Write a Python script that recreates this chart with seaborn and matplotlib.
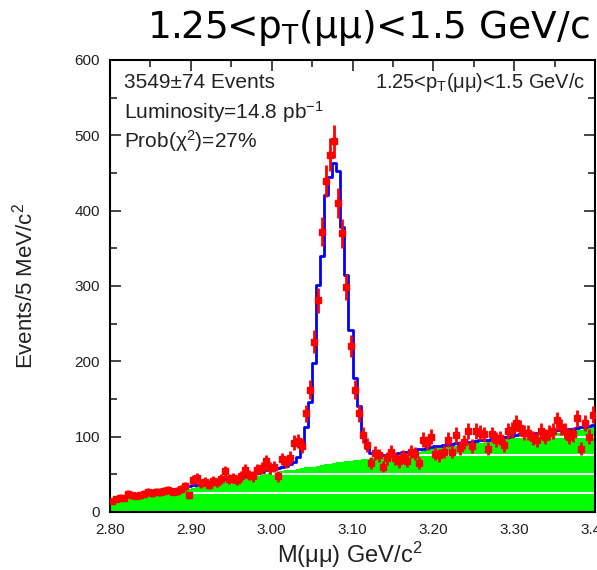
import matplotlib
matplotlib.use("Agg")
import matplotlib.pyplot as plt
from matplotlib.ticker import MultipleLocator
import numpy as np
import pandas as pd
import seaborn as sns

sns.set_style("ticks")
plt.rcParams.update({
    "font.family": ["Liberation Sans", "DejaVu Sans"],
    "mathtext.default": "regular",
})

# 5 MeV bins from 2.80 to 3.40 GeV/c^2
edges = np.linspace(2.80, 3.40, 121)
centers = (edges[:-1] + edges[1:]) / 2

# data counts per bin
counts = np.array([
    14, 17, 19, 18, 24, 22, 21, 22, 24, 27, 25, 27, 26, 28, 29, 27, 28, 30, 34, 22,
    42, 45, 38, 40, 36, 41, 39, 44, 54, 44, 45, 42, 47, 56, 49, 47, 56, 58, 67, 58,
    60, 47, 70, 66, 72, 92, 94, 88, 131, 162, 226, 281, 372, 439, 474, 492, 410, 370, 299, 220,
    162, 131, 102, 89, 65, 78, 75, 60, 71, 80, 71, 67, 74, 68, 80, 77, 65, 96, 91, 100,
    77, 75, 80, 96, 80, 102, 85, 93, 107, 87, 107, 105, 103, 84, 103, 96, 98, 89, 107, 109,
    118, 111, 105, 105, 98, 96, 107, 100, 105, 107, 122, 113, 107, 100, 103, 124, 84, 118, 100, 129,
])

# total fit (blue histogram)
fit = np.array([
    17, 18, 19, 20, 21, 22, 23, 24, 24, 25, 26, 27, 28, 29, 30, 30, 31, 32, 33, 34,
    35, 36, 37, 38, 39, 40, 41, 42, 43, 44, 45, 46, 47, 48, 50, 51, 52, 53, 55, 57,
    57, 58, 59, 61, 63, 66, 73, 85, 113, 146, 198, 301, 339, 421, 445, 463, 452, 378, 315, 242,
    178, 140, 105, 85, 78, 76, 75, 75, 76, 76, 77, 78, 79, 80, 81, 82, 83, 84, 85, 86,
    87, 88, 89, 89, 90, 91, 91, 92, 93, 93, 94, 95, 95, 96, 97, 97, 98, 99, 100, 101,
    102, 103, 103, 104, 104, 105, 105, 106, 107, 107, 108, 108, 109, 110, 110, 111, 112, 113, 114, 115,
])

# background component (green)
bkg = np.array([
    14, 15, 16, 17, 18, 19, 20, 21, 21, 22, 23, 24, 25, 26, 27, 27, 28, 29, 30, 31,
    32, 33, 34, 35, 36, 37, 38, 39, 40, 41, 42, 43, 44, 45, 46, 47, 48, 49, 50, 51,
    52, 53, 54, 55, 56, 56, 57, 58, 59, 60, 60, 61, 62, 63, 64, 65, 66, 66, 67, 68,
    69, 69, 70, 70, 71, 71, 72, 72, 73, 73, 74, 75, 76, 77, 78, 79, 80, 81, 82, 83,
    84, 85, 86, 86, 87, 88, 88, 89, 90, 90, 91, 92, 92, 93, 94, 94, 95, 96, 97, 98,
    99, 100, 100, 101, 101, 102, 102, 103, 104, 104, 105, 105, 106, 107, 107, 108, 109, 110, 111, 112,
])

# white stripes through the green fill
stripe_levels = [25, 50, 75, 100]
stripe_starts = [2.90, 3.00, 3.10, 3.30]

xtick_vals = [2.80, 2.90, 3.00, 3.10, 3.20, 3.30, 3.40]
xtick_labels = ["2.80", "2.90", "3.00", "3.10", "3.20", "3.30", "3.40"]

df = pd.DataFrame({"m": centers, "counts": counts, "fit": fit, "bkg": bkg})

fig = plt.figure(figsize=(5.97, 5.70), dpi=100)
ax = fig.add_axes([0.184, 0.102, 0.813, 0.793])

sns.histplot(data=df, x="m", weights="bkg", bins=list(edges), element="step", fill=True,
             color="#00ff00", alpha=1, linewidth=0, ax=ax, zorder=1)
ax.hlines(stripe_levels, stripe_starts, 3.40, colors="white", linewidth=1.5, zorder=2)
sns.histplot(data=df, x="m", weights="fit", bins=list(edges), element="step", fill=False,
             color="#0000ff", linewidth=2, ax=ax, zorder=3)
ax.errorbar(df["m"], df["counts"], yerr=np.sqrt(df["counts"]), xerr=0.0025, fmt="s",
            color="#ff0000", ms=4, elinewidth=2, capsize=0, zorder=4)

ax.set_xlim(2.80, 3.40)
ax.set_ylim(0, 600)
ax.set_xticks(xtick_vals)
ax.set_xticklabels(xtick_labels)
ax.set_yticks([0, 100, 200, 300, 400, 500, 600])
ax.xaxis.set_minor_locator(MultipleLocator(0.05))
ax.yaxis.set_minor_locator(MultipleLocator(50))
ax.tick_params(which="both", direction="in", top=True, right=True, width=1.2,
               labelsize=11, labelcolor="#222222")
ax.tick_params(which="major", length=8)
ax.tick_params(which="minor", length=5)
ax.tick_params(axis="x", pad=8)
ax.tick_params(axis="y", pad=7)
for s in ax.spines.values():
    s.set_linewidth(1.5)
    s.set_color("black")

ax.set_xlabel("M(μμ) GeV/c$^2$", fontsize=17, color="#222222")
ax.set_ylabel("Events/5 MeV/c$^2$", fontsize=16, color="#222222")
ax.xaxis.set_label_coords(0.495, -0.062)
ax.yaxis.set_label_coords(-0.15, 0.5)

ax.text(0.03, 0.95, "3549±74 Events", transform=ax.transAxes, fontsize=15,
        va="center", color="#222222")
ax.text(0.03, 0.885, "Luminosity=14.8 pb$^{-1}$", transform=ax.transAxes, fontsize=15,
        va="center", color="#222222")
ax.text(0.03, 0.82, "Prob(χ$^2$)=27%", transform=ax.transAxes, fontsize=15,
        va="center", color="#222222")
ax.text(0.98, 0.95, "1.25<p$_T$(μμ)<1.5 GeV/c", transform=ax.transAxes, fontsize=14.5,
        va="center", ha="right", color="#222222")

fig.text(0.988, 0.95, "1.25<p$_T$(μμ)<1.5 GeV/c", fontsize=27, ha="right", va="center",
         family=["DejaVu Sans"], color="black")

fig.savefig("out.png", dpi=100)
